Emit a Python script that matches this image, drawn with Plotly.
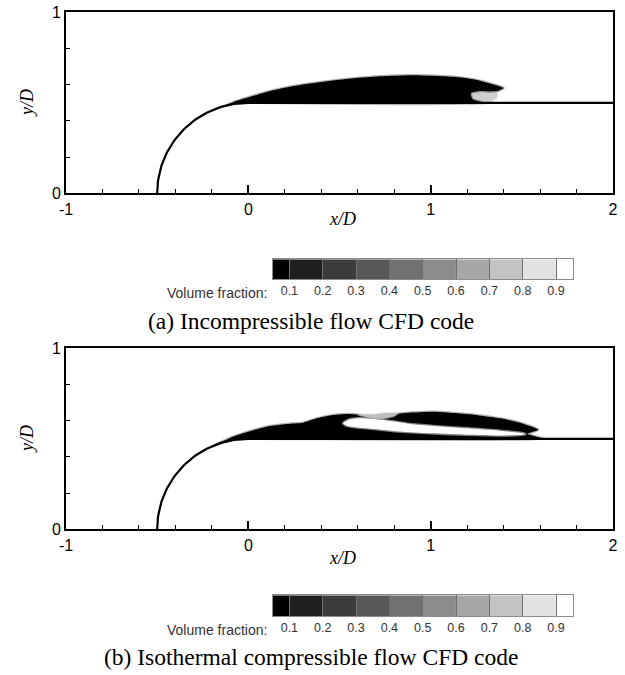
import numpy as np
import plotly.graph_objects as go

W, H = 625, 675

# ---------------- data ----------------
x_ticks = [-1, 0, 1, 2]
x_tick_text = ["-1", "0", "1", "2"]
y_ticks = [0, 1]
y_tick_text = ["0", "1"]

cb_levels = [0.1, 0.2, 0.3, 0.4, 0.5, 0.6, 0.7, 0.8, 0.9]
cb_labels = ["0.1", "0.2", "0.3", "0.4", "0.5", "0.6", "0.7", "0.8", "0.9"]
cb_edges = [0.05, 0.1, 0.2, 0.3, 0.4, 0.5, 0.6, 0.7, 0.8, 0.9, 0.95]
cb_grays = ["#000000", "#1f1f1f", "#3b3b3b", "#585858", "#717171",
            "#8b8b8b", "#a7a7a7", "#c3c3c3", "#e2e2e2", "#ffffff"]

body_radius = 0.5
body_end_x = 2.0

# (a) incompressible: liquid sheet outline (x/D, y/D)
a_sheet_x = [-0.13, -0.08, 0.0, 0.1, 0.2, 0.3, 0.4, 0.55, 0.7, 0.9, 1.1, 1.2, 1.27, 1.34, 1.4,
             1.37, 1.32, 1.27, 1.22, 1.23, 1.29, 0.0, -0.05, -0.1, -0.13]
a_sheet_y = [0.483, 0.505, 0.53, 0.56, 0.583, 0.601, 0.615, 0.633, 0.645, 0.652, 0.645, 0.635,
             0.622, 0.603, 0.582, 0.566, 0.563, 0.565, 0.553, 0.52, 0.5, 0.5, 0.4975, 0.49, 0.483]
a_blur_x = [1.19, 1.27, 1.36, 1.36, 1.31, 1.21, 1.19]
a_blur_y = [0.555, 0.572, 0.566, 0.53, 0.5, 0.5, 0.53]

# (b) compressible: liquid envelope and trapped gas pocket
b_sheet_x = [-0.2, -0.1, -0.03, 0.1, 0.21, 0.3, 0.375, 0.466, 0.54, 0.613, 0.68, 0.74, 0.8, 0.9,
             1.015, 1.2, 1.38, 1.49, 1.59, 1.53, 1.58, 1.62, 0.0, -0.05, -0.1, -0.15, -0.2]
b_sheet_y = [0.458, 0.505, 0.53, 0.567, 0.582, 0.589, 0.613, 0.631, 0.637, 0.632, 0.615, 0.612,
             0.635, 0.645, 0.65, 0.637, 0.613, 0.589, 0.55, 0.528, 0.512, 0.5, 0.5, 0.4975,
             0.49, 0.477, 0.458]
b_gas_x = [0.52, 0.55, 0.6, 0.7, 0.8, 0.887, 1.015, 1.2, 1.38, 1.5, 1.52, 1.4, 1.2, 1.0, 0.83,
           0.74, 0.6, 0.54, 0.52]
b_gas_y = [0.586, 0.605, 0.613, 0.608, 0.595, 0.582, 0.571, 0.558, 0.545, 0.532, 0.525, 0.518,
           0.522, 0.53, 0.54, 0.549, 0.562, 0.572, 0.586]
b_gap_x = [0.6, 0.68, 0.76, 0.82, 0.8, 0.74, 0.68, 0.6]
b_gap_y = [0.632, 0.634, 0.642, 0.64, 0.625, 0.612, 0.615, 0.632]

captions = ["(a) Incompressible flow CFD code", "(b) Isothermal compressible flow CFD code"]

# ---------------- geometry helpers (window pixel layout) ----------------
def px(x):
    return x / W

def py(y):
    return 1 - y / H

PLOT_L, PLOT_R = 66, 613
panels = [
    dict(top=12.3, bot=193.3, cb_top=259.3, cb_bot=279.3, cb_lab=292.5, cap=321, xlab=219, ylab=103),
    dict(top=348.3, bot=529.3, cb_top=595.3, cb_bot=616.3, cb_lab=629.5, cap=657, xlab=558, ylab=439),
]
CB_L, CB_R = 272.7, 572.7

fig = go.Figure()

theta = np.linspace(np.pi, np.pi / 2, 60)
body_x = list(body_radius * np.cos(theta)) + [body_end_x]
body_y = list(body_radius * np.sin(theta)) + [body_radius]

discrete_scale = []
for i, c in enumerate(cb_grays):
    discrete_scale.append([i / len(cb_grays), c])
    discrete_scale.append([(i + 1) / len(cb_grays), c])


def add_fill(xs, ys, color, edge, width, xa, ya):
    fig.add_trace(go.Scatter(x=xs, y=ys, mode="lines", fill="toself", fillcolor=color,
                             line=dict(color=edge, width=width, shape="spline", smoothing=0.6),
                             hoverinfo="skip", showlegend=False, xaxis=xa, yaxis=ya))


for k, p in enumerate(panels):
    xa = "x" if k == 0 else f"x{2 * k + 1}"
    ya = "y" if k == 0 else f"y{2 * k + 1}"
    cxa = f"x{2 * k + 2}"
    cya = f"y{2 * k + 2}"
    if k == 0:
        add_fill(a_blur_x, a_blur_y, "#cfcfcf", "rgba(200,200,200,0.5)", 3, xa, ya)
        add_fill(a_sheet_x, a_sheet_y, "#000000", "rgba(0,0,0,0.3)", 2.5, xa, ya)
    else:
        add_fill(b_sheet_x, b_sheet_y, "#000000", "rgba(0,0,0,0.3)", 2.5, xa, ya)
        add_fill(b_gas_x, b_gas_y, "#ffffff", "rgba(255,255,255,0.5)", 2.5, xa, ya)
        add_fill(b_gap_x, b_gap_y, "#bdbdbd", "rgba(190,190,190,0.4)", 2, xa, ya)
    fig.add_trace(go.Scatter(x=body_x, y=body_y, mode="lines",
                             line=dict(color="black", width=2.2), hoverinfo="skip",
                             showlegend=False, xaxis=xa, yaxis=ya))
    # legend bar
    fig.add_trace(go.Heatmap(x=cb_edges, y=[0, 1], z=[list(range(len(cb_grays)))],
                             colorscale=discrete_scale, zmin=-0.5, zmax=len(cb_grays) - 0.5,
                             showscale=False, hoverinfo="skip", xaxis=cxa, yaxis=cya))

    axis_font = dict(family="Liberation Sans, Arial", size=16, color="black")
    xkey = "xaxis" if k == 0 else f"xaxis{2 * k + 1}"
    ykey = "yaxis" if k == 0 else f"yaxis{2 * k + 1}"
    fig.layout[xkey] = dict(
        domain=[px(PLOT_L), px(PLOT_R)], anchor=ya, range=[-1, 2], automargin=False,
        tickvals=x_ticks, ticktext=x_tick_text, ticks="inside", ticklen=8, tickwidth=2,
        tickcolor="black", tickfont=axis_font, ticklabeloverflow="allow",
        minor=dict(tick0=-1, dtick=0.2, ticks="inside", ticklen=4, tickwidth=1, tickcolor="black"),
        showline=True, linewidth=2, linecolor="black", mirror=True,
        showgrid=False, zeroline=False, fixedrange=True, layer="above traces")
    fig.layout[ykey] = dict(
        domain=[py(p["bot"]), py(p["top"])], anchor=xa, range=[0, 1], automargin=False,
        tickvals=y_ticks, ticktext=y_tick_text, ticks="inside", ticklen=8, tickwidth=2,
        tickcolor="black", tickfont=axis_font, ticklabeloverflow="allow",
        minor=dict(tick0=0, dtick=0.2, ticks="inside", ticklen=4, tickwidth=1, tickcolor="black"),
        showline=True, linewidth=2, linecolor="black", mirror=True,
        showgrid=False, zeroline=False, fixedrange=True, layer="above traces")
    fig.layout[f"xaxis{2 * k + 2}"] = dict(
        domain=[px(CB_L), px(CB_R)], anchor=cya, range=[0.05, 0.95], automargin=False,
        tickvals=cb_levels, ticktext=cb_labels, ticks="inside",
        ticklen=int(round(p["cb_bot"] - p["cb_top"])), tickwidth=1, tickcolor="#707070",
        tickfont=dict(family="Liberation Sans, Arial", size=12.5, color="#333333"),
        showline=True, linewidth=1, linecolor="#8c8c8c", mirror=True,
        showgrid=False, zeroline=False, fixedrange=True, layer="above traces")
    fig.layout[f"yaxis{2 * k + 2}"] = dict(
        domain=[py(p["cb_bot"]), py(p["cb_top"])], anchor=cxa, range=[0, 1], automargin=False,
        showticklabels=False, ticks="", showline=True, linewidth=1, linecolor="#8c8c8c",
        mirror=True, showgrid=False, zeroline=False, fixedrange=True)

    fig.add_annotation(text="<i>x/D</i>", xref="paper", yref="paper", x=px((PLOT_L + PLOT_R) / 2 + 3),
                       y=py(p["xlab"]), showarrow=False, xanchor="center", yanchor="middle",
                       font=dict(family="Liberation Serif, Times New Roman", size=18, color="black"))
    fig.add_annotation(text="<i>y/D</i>", xref="paper", yref="paper", x=px(27), y=py(p["ylab"]),
                       showarrow=False, textangle=-90, xanchor="center", yanchor="middle",
                       font=dict(family="Liberation Serif, Times New Roman", size=18, color="black"))
    fig.add_annotation(text="Volume fraction:", xref="paper", yref="paper", x=px(269),
                       y=py(p["cb_lab"]), showarrow=False, xanchor="right", yanchor="middle",
                       font=dict(family="Liberation Sans, Arial", size=14, color="#333333"))
    fig.add_annotation(text=captions[k], xref="paper", yref="paper", x=px(311),
                       y=py(p["cap"]), showarrow=False, xanchor="center", yanchor="middle",
                       font=dict(family="Liberation Serif, Times New Roman", size=23.5, color="black"))

fig.update_layout(width=W, height=H, margin=dict(l=0, r=0, t=0, b=0),
                  paper_bgcolor="white", plot_bgcolor="white", showlegend=False)

fig.write_html("out.html", config={"displayModeBar": False, "staticPlot": True},
               post_script="document.body.style.margin='0px';")
